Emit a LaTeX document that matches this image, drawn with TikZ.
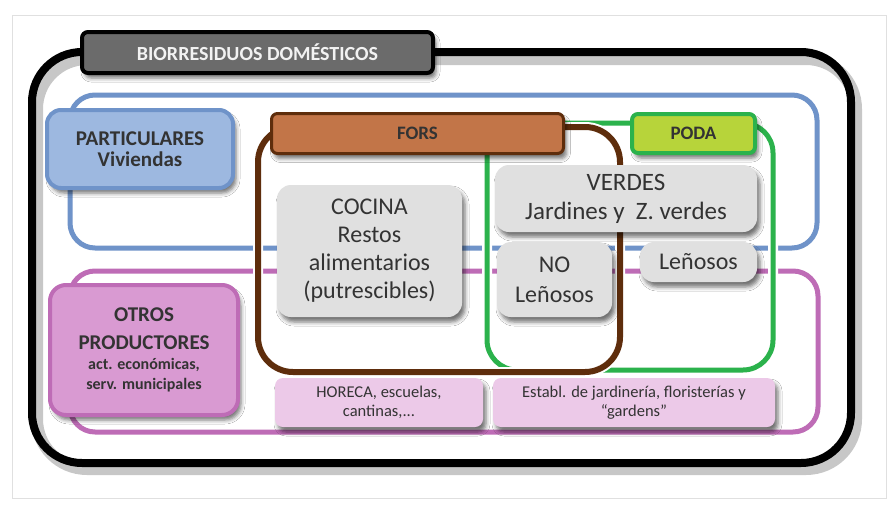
\documentclass[tikz,border=0pt]{standalone}
\usepackage{fontspec}
\setmainfont{Carlito}
\usetikzlibrary{shadows.blur}
\definecolor{bluec}{HTML}{6F93C9}
\definecolor{bluef}{HTML}{9DB8E0}
\definecolor{magc}{HTML}{BE6CB6}
\definecolor{magf}{HTML}{D99AD2}
\definecolor{pinkf}{HTML}{ECC9E8}
\definecolor{brownc}{HTML}{5E2D0C}
\definecolor{forsf}{HTML}{C27548}
\definecolor{greenc}{HTML}{2BB24C}
\definecolor{podaf}{HTML}{B7D43A}
\definecolor{grayf}{HTML}{E0E0E0}
\definecolor{titlef}{HTML}{6B6B6B}
\definecolor{txt}{HTML}{333333}
\newcommand{\smallfs}{\fontsize{16}{20}\selectfont}
\tikzset{
  loopshape/.style={shape=rectangle, inner sep=0pt, outer sep=0pt},
  cased/.style={preaction={draw=white, line width=10pt}},
  sh/.style={blur shadow={shadow xshift=3pt, shadow yshift=-5pt, shadow blur radius=4pt, shadow opacity=55}},
  box/.style={shape=rectangle, inner sep=2pt, align=center, text=txt, sh},
  graybox/.style={box, fill=grayf, rounded corners=14pt},
  pinkbox/.style={box, fill=pinkf, rounded corners=8pt, font=\fontsize{16.5}{19}\selectfont},
}
\begin{document}
\begin{tikzpicture}[x=1pt,y=-1pt]
\useasboundingbox (0,0) rectangle (891,506);
\fill[white] (0,0) rectangle (891,506);
\draw[black!12, line width=1pt] (12,15) rectangle (886,498);
% outer black loop with shadow
\draw[black, opacity=0.22, line width=12pt, rounded corners=50pt] (37,59) rectangle (856,469);
\node[loopshape, draw=black, line width=8pt, rounded corners=50pt, minimum width=819pt, minimum height=411pt] (outer) at (441.5,257.5) {};
% coloured loops
\node[loopshape, cased, draw=bluec, line width=5pt, rounded corners=25pt, minimum width=747pt, minimum height=153pt] (blueL) at (443.5,171.5) {};
\node[loopshape, cased, draw=magc, line width=5pt, rounded corners=25pt, minimum width=748pt, minimum height=161pt] (magL) at (444,351.5) {};
\node[loopshape, cased, draw=greenc, line width=5pt, rounded corners=30pt, minimum width=286pt, minimum height=247pt] (greenL) at (630,246.5) {};
\node[loopshape, cased, draw=brownc, line width=6pt, rounded corners=35pt, minimum width=362pt, minimum height=245pt] (brownL) at (439,249.5) {};
% title
\node[box, draw=black, line width=4pt, fill=titlef, text=black!5, rounded corners=6pt, minimum width=351pt, minimum height=41pt, font=\bfseries\fontsize{20}{22}\selectfont] (title) at (257.5,52.5) {BIORRESIDUOS DOMÉSTICOS};
% producers
\node[box, draw=bluec, line width=4pt, fill=bluef, rounded corners=14pt, minimum width=186pt, minimum height=78pt, font=\bfseries\fontsize{21}{21}\selectfont] (part) at (140,149) {PARTICULARES\\Viviendas};
\node[box, draw=magc, line width=4pt, fill=magf, rounded corners=16pt, minimum width=188pt, minimum height=130pt, font=\bfseries\fontsize{21}{28}\selectfont] (otros) at (144,350) {OTROS\\PRODUCTORES\\[-8pt]{\smallfs act. económicas,}\\[-8pt]{\smallfs serv. municipales}};
% categories
\node[box, draw=brownc, line width=3pt, fill=forsf, rounded corners=6pt, minimum width=292pt, minimum height=40pt, font=\bfseries\fontsize{19}{22}\selectfont] (fors) at (417.5,133.5) {FORS};
\node[box, draw=greenc, line width=4pt, fill=podaf, rounded corners=6pt, minimum width=123pt, minimum height=39pt, font=\bfseries\fontsize{19}{22}\selectfont] (poda) at (693.5,133.5) {PODA};
% gray boxes
\node[graybox, minimum width=185pt, minimum height=132pt, font=\fontsize{24}{28}\selectfont] (cocina) at (369.5,251) {COCINA\\Restos\\alimentarios\\(putrescibles)};
\node[graybox, minimum width=262pt, minimum height=67pt, font=\fontsize{25}{29}\selectfont] (verdes) at (626,198.5) {VERDES\\Jardines y\ \ Z. verdes};
\node[graybox, minimum width=115pt, minimum height=75pt, font=\fontsize{24}{30}\selectfont] (nolen) at (554.5,279.5) {NO\\Leñosos};
\node[graybox, minimum width=117pt, minimum height=40pt, font=\fontsize{24}{28}\selectfont] (lenosos) at (698.5,262) {Leñosos};
% pink boxes
\node[pinkbox, minimum width=208pt, minimum height=49pt] (horeca) at (379,402.5) {HORECA, escuelas,\\cantinas,...};
\node[pinkbox, minimum width=282pt, minimum height=49pt] (establ) at (634,402.5) {Establ. de jardinería, floristerías y\\“gardens”};
\end{tikzpicture}
\end{document}
